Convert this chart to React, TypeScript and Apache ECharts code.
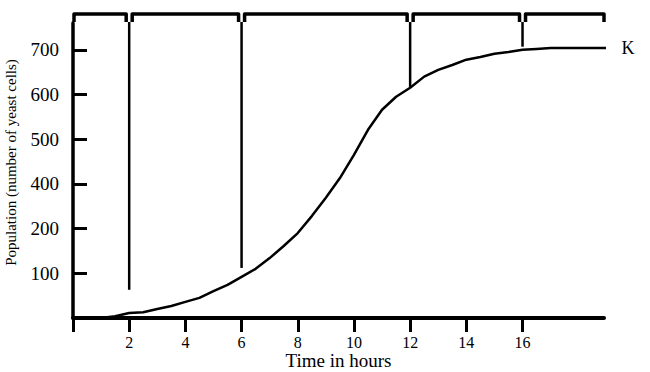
import React, { useEffect, useRef } from "react";
import * as echarts from "echarts";

// Time (hours) and population, expressed in axis positions (one unit = one labelled tick step)
const hours = [0, 1, 1.5, 2, 2.5, 3, 3.5, 4, 4.5, 5, 5.5, 6, 6.5, 7, 7.5, 8, 8.5, 9, 9.5, 10, 10.5, 11, 11.5, 12, 12.5, 13, 13.5, 14, 14.5, 15, 15.5, 16, 16.5, 17, 19.2];
const populationLevel = [0, 0, 0.04, 0.11, 0.13, 0.2, 0.27, 0.36, 0.45, 0.6, 0.74, 0.92, 1.1, 1.34, 1.61, 1.9, 2.28, 2.69, 3.13, 3.65, 4.21, 4.66, 4.95, 5.15, 5.4, 5.55, 5.66, 5.78, 5.84, 5.91, 5.95, 6.0, 6.02, 6.04, 6.04];

const yTickPositions = [1, 2, 3, 4, 5, 6];
const yTickLabels = ["100", "200", "400", "500", "600", "700"];
const xTickValues = [0, 2, 4, 6, 8, 10, 12, 14, 16];
const xLabelValues = [2, 4, 6, 8, 10, 12, 14, 16];

const phaseBounds = [0, 2, 6, 12, 16, 18.9];
const dividerTimes = [2, 6, 12, 16];
const dividerBottoms = [0.63, 1.12, 5.17, 6.07];

const X_MAX = 18.9;
const Y_MAX = 6.6;
const FONT = "'Liberation Serif', 'DejaVu Serif', serif";

export default function App() {
  const ref = useRef<HTMLDivElement>(null);
  useEffect(() => {
    if (!ref.current) return;
    const chart = echarts.init(ref.current, null, { renderer: "svg" });
    chart.setOption({
      animation: false,
      backgroundColor: "#fff",
      grid: { left: 73, right: 46, top: 23, bottom: 54, containLabel: false, outerBoundsMode: "none" },
      xAxis: {
        type: "value",
        min: 0,
        max: X_MAX,
        interval: 2,
        splitLine: { show: false },
        axisLine: { show: true, lineStyle: { color: "#000", width: 4 } },
        axisTick: { show: true, inside: false, length: 14, lineStyle: { color: "#000", width: 3 }, customValues: xTickValues },
        axisLabel: { customValues: xLabelValues, fontSize: 16, lineHeight: 15, fontFamily: FONT, color: "#000", margin: 17 },
      },
      yAxis: {
        type: "value",
        min: 0,
        max: Y_MAX,
        interval: 1,
        splitLine: { show: false },
        axisLine: { show: true, lineStyle: { color: "#000", width: 3.5 } },
        axisTick: { show: true, inside: true, length: 14, lineStyle: { color: "#000", width: 3 }, customValues: yTickPositions },
        axisLabel: {
          customValues: yTickPositions,
          formatter: (v: number) => yTickLabels[yTickPositions.indexOf(Math.round(v))] ?? "",
          fontSize: 19,
          fontFamily: FONT,
          color: "#000",
          margin: 14,
        },
      },
      series: [
        {
          type: "line",
          data: hours.map((h, i) => [h, populationLevel[i]]),
          showSymbol: false,
          clip: false,
          lineStyle: { color: "#000", width: 2.5 },
        },
      ],
    });

    const px = (t: number, u: number) => chart.convertToPixel({ gridIndex: 0 }, [t, u]) as number[];
    const topY = px(0, Y_MAX)[1];
    const bottomY = px(0, 0)[1];
    const bracketY = topY - 9;
    const hookY = bracketY + 8;
    const elements: any[] = [];
    for (let i = 0; i < phaseBounds.length - 1; i++) {
      const a = px(phaseBounds[i], 0)[0] + (i === 0 ? 1 : 3);
      const b = px(phaseBounds[i + 1], 0)[0] - (i === phaseBounds.length - 2 ? 0 : 3);
      elements.push({
        type: "polyline",
        shape: { points: [[a, hookY], [a, bracketY], [b, bracketY], [b, hookY]] },
        style: { stroke: "#000", lineWidth: 3.5, fill: "none", lineJoin: "round" },
      });
    }
    dividerTimes.forEach((t, i) => {
      const x = px(t, 0)[0];
      const yb = px(t, dividerBottoms[i])[1];
      elements.push({
        type: "line",
        shape: { x1: x, y1: hookY, x2: x, y2: yb },
        style: { stroke: "#000", lineWidth: 2.5 },
      });
    });
    const last = px(hours[hours.length - 1], populationLevel[populationLevel.length - 1]);
    elements.push({
      type: "text",
      x: last[0] + 9,
      y: last[1],
      style: { text: "K", fontSize: 18, fontFamily: FONT, fill: "#000", align: "left", verticalAlign: "middle" },
    });
    const xMid = (px(0, 0)[0] + px(X_MAX, 0)[0]) / 2;
    elements.push({
      type: "text",
      x: xMid,
      y: bottomY + 42,
      style: { text: "Time in hours", fontSize: 19, lineHeight: 18, fontFamily: FONT, fill: "#000", align: "center", verticalAlign: "middle" },
    });
    const midY = (bottomY + topY) / 2 - 8;
    elements.push({
      type: "text",
      x: 11,
      y: midY,
      rotation: Math.PI / 2,
      style: { text: "Population (number of yeast cells)", fontSize: 15, fontFamily: FONT, fill: "#000", align: "center", verticalAlign: "middle" },
    });
    chart.setOption({ graphic: elements });
    return () => chart.dispose();
  }, []);
  return <div ref={ref} style={{ position: "fixed", left: 0, top: 0, width: 650, height: 372 }} />;
}
